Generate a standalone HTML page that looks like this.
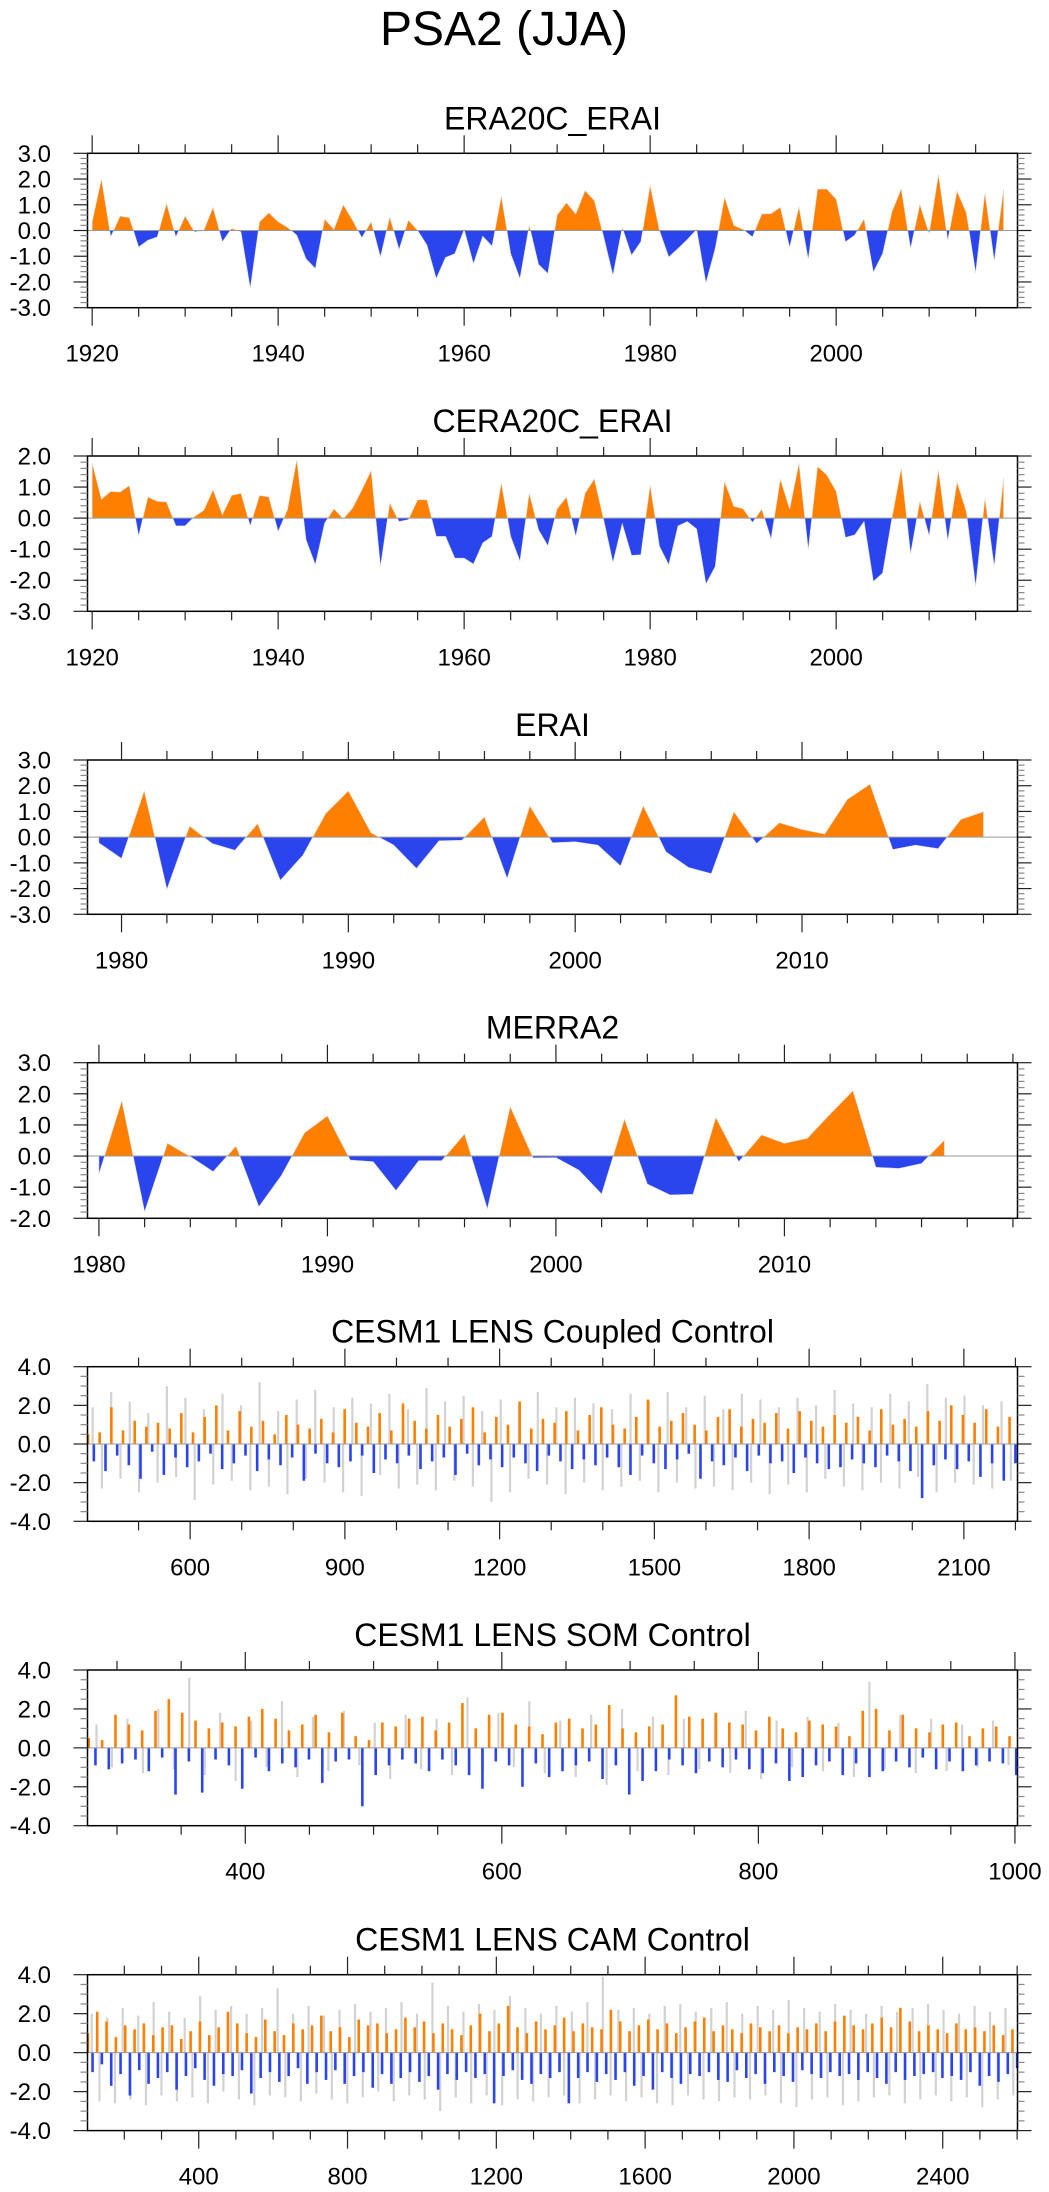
<!DOCTYPE html>
<html><head><meta charset="utf-8"><title>PSA2 (JJA)</title>
<style>html,body{margin:0;padding:0;background:#fff}svg{display:block}text{font-family:"Liberation Sans",Arial,sans-serif;fill:#000}</style>
</head><body>
<svg id="fig" width="1049" height="2192" viewBox="0 0 1049 2192" xmlns="http://www.w3.org/2000/svg">
<rect width="1049" height="2192" fill="#fff"/>
<text x="504" y="45" font-size="48" text-anchor="middle">PSA2 (JJA)</text>
</svg>
<script>
// ---- data ----
const era20cStart = 1920;
const era20cValues = [0.34,2.0,-0.25,0.56,0.5,-0.64,-0.38,-0.25,1.05,-0.25,0.56,-0.05,0,0.9,-0.44,0.08,-0.05,-2.25,0.34,0.69,
0.34,0.12,-0.18,-1.1,-1.48,0.44,0.04,1.0,0.4,-0.28,0.34,-1.03,0.53,-0.74,0.4,0,-0.57,-1.87,-1.05,-0.9,
0.04,-1.29,-0.22,-0.61,1.34,-0.9,-1.87,0.2,-1.32,-1.67,0.6,1.08,0.64,1.55,1.16,-0.24,-1.74,0.12,-0.96,-0.44,
1.75,0,-1.03,-0.7,-0.35,0.04,-2.04,-0.7,1.29,0.2,0.04,-0.25,0.64,0.66,0.9,-0.66,0.92,-1.13,1.61,1.61,
1.22,-0.44,-0.18,0.45,-1.62,-0.9,0.73,1.62,-0.7,1.01,-0.12,2.18,-0.38,1.53,0.69,-1.65,1.47,-1.19,1.61];
const cera20cStart = 1920;
const cera20cValues = [1.77,0.61,0.86,0.84,1.05,-0.57,0.68,0.54,0.52,-0.25,-0.25,0.05,0.25,0.91,0.11,0.73,0.8,-0.25,0.73,0.68,
-0.43,0.27,1.88,-0.7,-1.5,-0.16,0.3,-0.02,0.32,0.91,1.53,-1.56,0.48,-0.11,-0.05,0.59,0.59,-0.59,-0.59,-1.29,
-1.29,-1.48,-0.8,-0.59,1.13,-0.59,-1.39,0.8,-0.38,-0.89,0.3,0.68,-0.59,0.8,1.26,-0.05,-1.43,-0.18,-1.2,-1.18,
1.07,-0.91,-1.5,-0.25,-0.11,-0.35,-2.12,-1.56,1.18,0.38,0.3,-0.14,0.29,-0.67,1.26,0.29,1.77,-1.02,1.66,1.39,
0.86,-0.62,-0.54,-0.11,-2.04,-1.77,0,1.61,-1.15,0.54,-0.57,1.56,-0.73,1.16,0.21,-2.2,0.64,-1.56,1.29];
const eraiStart = 1979;
const eraiValues = [-0.22,-0.83,1.8,-2.03,0.43,-0.25,-0.51,0.53,-1.68,-0.7,0.92,1.8,0.17,-0.31,-1.22,-0.14,-0.12,0.79,-1.61,1.21,
-0.22,-0.18,-0.31,-1.12,1.22,-0.57,-1.18,-1.42,0.99,-0.25,0.56,0.3,0.12,1.47,2.06,-0.48,-0.31,-0.45,0.69,0.99];
const merra2Start = 1980;
const merra2Values = [-0.58,1.78,-1.79,0.41,-0.02,-0.5,0.32,-1.63,-0.61,0.75,1.29,-0.13,-0.18,-1.11,-0.15,-0.15,0.71,-1.7,1.59,-0.06,
-0.05,-0.45,-1.22,1.19,-0.9,-1.25,-1.23,1.24,-0.18,0.68,0.41,0.57,1.35,2.1,-0.36,-0.4,-0.24,0.51];

const cplFirstYear = 402, cplLastYear = 2200;
const cplValues = [0.5,-0.9,0.6,-1.4,1.9,-0.6,0.7,-1.1,1.2,-1.8,0.9,-0.4,1.1,-1.6,0.8,-0.7,1.6,-1.2,0.6,-0.9,
1.4,-0.5,2.0,-1.3,0.7,-1.0,1.7,-0.6,0.9,-1.4,1.2,-0.8,0.5,-1.1,1.5,-0.7,1.0,-1.9,0.8,-0.5,
1.3,-1.0,0.6,-1.2,1.8,-0.9,1.1,-0.6,0.9,-1.5,1.6,-0.8,0.7,-1.0,2.1,-0.6,1.2,-1.3,0.8,-0.9,
1.5,-0.7,0.9,-1.6,1.3,-0.5,1.9,-1.1,0.6,-0.8,1.4,-1.2,1.0,-0.7,2.2,-1.0,0.8,-1.4,1.3,-0.6,
1.1,-0.9,1.7,-1.3,0.7,-0.8,1.5,-1.1,1.9,-0.7,1.0,-1.2,0.8,-1.6,1.4,-0.6,2.3,-1.0,0.9,-1.3,
1.2,-0.8,1.6,-0.5,1.0,-1.8,0.7,-0.9,1.4,-1.1,1.8,-0.7,0.9,-1.4,1.3,-0.6,1.1,-1.0,1.6,-0.9,
0.8,-1.5,1.7,-0.7,1.2,-1.0,0.9,-1.3,1.5,-1.2,1.1,-0.8,1.4,-1.0,0.7,-1.2,1.8,-0.6,1.0,-0.9,
1.3,-1.4,0.9,-2.8,1.7,-1.1,1.2,-0.8,2.0,-1.3,1.5,-0.9,1.1,-1.7,1.8,-1.0,0.9,-1.9,1.4,-1.0];
const cplGrey = [1.9,-2.3,2.7,-1.8,2.2,-2.5,1.6,-2.0,3.0,-1.7,2.4,-2.9,1.8,-2.1,2.6,-1.9,2.0,-2.4,3.2,-2.2,
1.7,-2.6,2.3,-1.8,2.8,-2.0,1.9,-2.5,2.4,-2.7,2.1,-1.6,2.6,-2.3,1.8,-2.1,2.9,-2.4,2.2,-1.9,
2.5,-2.2,1.7,-3.0,2.3,-2.5,2.0,-1.8,2.7,-2.1,1.9,-2.6,2.4,-2.0,2.1,-2.4,1.8,-2.2,2.6,-1.9,
2.2,-2.5,2.7,-2.0,1.9,-2.3,2.5,-2.2,1.8,-2.4,2.6,-2.0,2.3,-2.6,1.9,-2.1,2.4,-2.5,2.0,-1.8,
2.8,-2.2,2.1,-2.4,1.9,-2.0,2.6,-2.3,2.2,-1.7,3.1,-2.5,2.4,-2.0,2.5,-2.1,2.0,-2.3,2.2,-1.9];

const somFirstYear = 278, somLastYear = 1001;
const somValues = [0.5,-0.9,0.4,-1.1,1.7,-0.8,1.2,-0.6,0.9,-1.2,1.9,-0.5,2.5,-2.4,1.8,-0.7,1.4,-2.3,1.0,-0.6,
1.3,-0.9,1.1,-2.1,1.6,-0.5,2.0,-1.2,1.5,-0.8,0.9,-1.0,1.2,-0.6,1.7,-1.8,0.8,-0.7,1.8,-0.6,
0.6,-3.0,0.4,-1.4,1.3,-0.9,1.1,-0.6,1.5,-0.8,1.6,-1.2,0.9,-0.6,1.3,-0.9,2.3,-1.4,1.0,-2.1,
1.7,-0.7,1.8,-0.9,1.2,-2.0,1.1,-0.8,0.7,-1.5,1.3,-1.2,1.5,-0.9,1.0,-0.7,1.2,-1.6,2.2,-0.9,
1.0,-2.4,0.8,-1.7,1.1,-1.2,1.2,-0.6,2.7,-0.9,1.6,-1.3,1.5,-0.7,1.8,-1.0,1.3,-0.6,1.2,-1.1,
0.9,-1.3,1.6,-0.8,1.0,-1.7,0.8,-1.5,1.4,-0.9,1.2,-0.7,1.1,-1.4,0.6,-0.8,1.9,-1.5,2.0,-1.2,
0.9,-0.7,1.7,-1.0,1.0,-0.5,0.8,-1.1,1.2,-0.7,1.3,-1.2,0.6,-0.9,1.0,-0.7,1.1,-0.8,0.6,-1.4];
const somGrey = [1.2,-1.0,1.5,-1.3,2.0,-1.1,3.6,-1.4,1.8,-1.7,1.4,-1.0,2.4,-1.5,1.6,-1.2,1.9,-0.9,1.3,-1.6,
1.7,-1.1,1.5,-1.4,2.6,-1.2,1.8,-1.0,2.4,-1.3,1.4,-1.5,1.7,-1.9,2.0,-1.2,1.6,-1.4,1.5,-1.1,
1.8,-1.3,1.9,-1.6,1.4,-1.0,1.6,-1.2,1.3,-1.5,3.4,-1.1,1.7,-1.3,1.5,-1.2,1.2,-1.0,1.4,-0.9];

const camFirstYear = 102, camLastYear = 2600;
const camValues = [1.0,-1.0,2.1,-0.6,1.6,-1.7,0.8,-1.1,1.4,-2.2,1.2,-0.9,1.5,-1.6,0.9,-1.3,1.3,-1.0,1.4,-1.9,
0.7,-1.2,1.1,-0.8,1.6,-1.4,0.9,-1.7,1.3,-1.1,2.1,-1.2,1.5,-0.9,1.0,-2.1,0.8,-1.3,1.7,-1.0,
1.1,-1.5,0.9,-1.2,1.5,-0.8,1.2,-1.6,1.4,-1.0,1.9,-1.4,1.1,-0.9,1.3,-1.6,0.8,-1.2,1.7,-1.0,
1.4,-1.8,1.5,-1.1,1.0,-1.6,1.2,-1.3,1.8,-1.0,1.3,-1.5,1.6,-1.2,1.0,-1.9,1.5,-1.1,1.2,-1.4,
0.9,-1.0,1.4,-1.3,2.0,-1.1,1.1,-2.6,1.5,-1.2,2.4,-0.9,1.3,-1.4,1.0,-1.6,1.6,-1.1,1.2,-1.3,
1.4,-1.0,1.8,-2.6,1.1,-1.3,1.5,-1.0,1.3,-1.5,1.2,-1.1,2.2,-1.4,1.6,-1.0,1.1,-1.7,1.4,-1.2,
1.7,-1.9,1.2,-1.0,1.5,-1.3,1.0,-1.6,1.3,-1.1,1.6,-1.2,1.8,-1.0,1.1,-1.4,1.4,-1.5,1.2,-0.9,
1.0,-1.3,1.5,-1.1,1.3,-1.6,1.1,-1.0,1.4,-1.2,1.0,-1.5,1.3,-0.9,1.2,-1.1,1.5,-1.3,1.1,-1.0,
1.6,-1.2,1.9,-1.1,1.4,-1.4,1.2,-1.0,1.5,-1.3,1.8,-1.6,1.3,-1.0,2.3,-1.4,1.6,-1.2,1.1,-1.1,
1.4,-1.0,1.2,-1.3,1.0,-1.2,1.5,-1.4,1.2,-1.0,1.3,-1.7,1.1,-1.2,1.4,-1.5,0.9,-1.1,1.2,-0.8];
const camGrey = [2.0,-2.5,1.8,-2.6,2.3,-2.4,1.9,-2.7,2.6,-2.2,2.1,-2.5,1.8,-2.3,2.9,-2.6,2.2,-2.0,2.4,-2.4,
2.0,-2.7,2.3,-2.2,3.3,-2.3,2.0,-2.5,2.4,-2.1,1.9,-2.4,2.2,-2.6,2.5,-2.3,2.1,-2.0,2.3,-2.5,
2.6,-2.2,2.0,-2.4,3.6,-3.0,2.4,-2.3,2.1,-2.6,2.5,-2.2,2.2,-2.7,2.9,-2.4,2.3,-2.5,2.0,-2.3,
2.4,-2.2,2.1,-2.6,2.6,-2.4,3.9,-2.2,2.2,-2.5,2.3,-2.3,2.0,-2.6,2.4,-2.7,2.5,-2.2,2.1,-2.4,
2.3,-2.5,2.6,-2.3,2.0,-2.4,2.4,-2.2,2.2,-2.6,2.7,-2.8,2.3,-2.4,2.1,-2.3,2.5,-2.7,2.2,-2.5,
2.0,-2.3,2.4,-2.2,2.1,-2.6,2.3,-2.4,2.5,-2.2,2.2,-2.5,2.0,-2.3,2.4,-2.8,2.1,-2.4,2.3,-2.2];

// tick label arrays
const era20cXTicks = [1920,1940,1960,1980,2000];
const eraiXTicks = [1980,1990,2000,2010];
const cplXTicks = [600,900,1200,1500,1800,2100];
const somXTicks = [400,600,800,1000];
const camXTicks = [400,800,1200,1600,2000,2400];

const NS = "http://www.w3.org/2000/svg";
const svg = document.getElementById('fig');
const ORANGE = "#ff8000", BLUE = "#2a45ee";
let clipId = 0;

function mk(tag, attrs, parent) {
  const e = document.createElementNS(NS, tag);
  for (const k in attrs) e.setAttribute(k, attrs[k]);
  (parent || svg).appendChild(e);
  return e;
}

function panel(cfg) {
  const g = mk('g', {});
  
  
  const L = 87.5, R = 1017.5, T = cfg.top, B = cfg.bottom;
  const xs = v => L + (v - cfg.xmin) / (cfg.xmax - cfg.xmin) * (R - L);
  const ys = v => B - (v - cfg.ymin) / (cfg.ymax - cfg.ymin) * (B - T);
  const t = mk('text', {x: (L + R) / 2, y: cfg.top - 24, 'font-size': 32, 'text-anchor': 'middle'}, g);
  t.textContent = cfg.title;
  
  
  const plot = mk('g', {}, g);
  
  
  const z = ys(0);
  if (cfg.type === 'area') {
    const pts = cfg.values.map((v, i) => xs(cfg.start + i).toFixed(2) + ',' + ys(v).toFixed(2));
    const x0 = xs(cfg.start), x1 = xs(cfg.start + cfg.values.length - 1);
    const d = 'M' + x0 + ',' + z + ' L' + pts.join(' L') + ' L' + x1 + ',' + z + 'Z';
    const id = 'c' + (clipId++);
    const defs = mk('defs', {}, plot);
    const cp = mk('clipPath', {id: id + 'p'}, defs); mk('rect', {x: L, y: T, width: R - L, height: z - T}, cp);
    const cn = mk('clipPath', {id: id + 'n'}, defs); mk('rect', {x: L, y: z, width: R - L, height: B - z}, cn);
    const pa = mk('path', {d: d, fill: ORANGE, stroke: '#ddd', 'stroke-width': 0.6, 'clip-path': 'url(#' + id + 'p)'}, plot);
    
    
    const na = mk('path', {d: d, fill: BLUE, stroke: '#ddd', 'stroke-width': 0.6, 'clip-path': 'url(#' + id + 'n)'}, plot);
    
    
  } else {
    const ng = cfg.grey.length, nv = cfg.values.length;
    const span = cfg.last - cfg.first;
    cfg.grey.forEach((v, i) => {
      const yr = cfg.first + (i + 0.5) / ng * span;
      const l = mk('line', {x1: xs(yr), x2: xs(yr), y1: z, y2: ys(v), stroke: '#d2d2d2', 'stroke-width': 2.2}, plot);
      
      
    });
    cfg.values.forEach((v, i) => {
      const yr = cfg.first + i / (nv - 1) * span;
      const l = mk('line', {x1: xs(yr), x2: xs(yr), y1: z, y2: ys(v), stroke: v >= 0 ? ORANGE : BLUE, 'stroke-width': 2.6}, plot);
      
      
    });
  }
  mk('line', {x1: L, x2: R, y1: z, y2: z, stroke: '#999', 'stroke-width': 1}, plot);
  // frame
  const fr = mk('rect', {x: L, y: T, width: R - L, height: B - T, fill: 'none', stroke: '#000', 'stroke-width': 1.5}, g);
  
  
  // x ticks
  const xa = mk('g', {stroke: '#222', 'stroke-width': 1.2}, g);
  
  
  const mstart = Math.ceil(cfg.xmin / cfg.xminor) * cfg.xminor;
  for (let v = mstart; v <= cfg.xmax; v += cfg.xminor) {
    const major = cfg.xticks.includes(v);
    const len = major ? 18 : 9;
    const x = xs(v);
    mk('line', {x1: x, x2: x, y1: T, y2: T - len}, xa);
    mk('line', {x1: x, x2: x, y1: B, y2: B + len}, xa);
  }
  cfg.xticks.forEach(v => {
    const tx = mk('text', {x: xs(v), y: B + 54, 'font-size': 24, 'text-anchor': 'middle', stroke: 'none'}, g);
    tx.textContent = v;
    
    
  });
  // y ticks
  const ya = mk('g', {stroke: '#222', 'stroke-width': 1.2}, g);
  
  
  const nMin = Math.round((cfg.ymax - cfg.ymin) / cfg.yminor);
  for (let k = 0; k <= nMin; k++) {
    const v = cfg.ymin + k * cfg.yminor;
    const r = v / cfg.ymajor;
    const major = Math.abs(r - Math.round(r)) < 1e-6;
    const len = major ? 14 : 7;
    const y = ys(v);
    mk('line', {x1: L, x2: L - len, y1: y, y2: y, stroke: major ? '#222' : '#888'}, ya);
    mk('line', {x1: R, x2: R + len, y1: y, y2: y, stroke: major ? '#222' : '#888'}, ya);
    if (major) {
      const ty = mk('text', {x: 51, y: y + 8.5, 'font-size': 24, 'text-anchor': 'end', stroke: 'none'}, g);
      ty.textContent = v.toFixed(1);
      
      
    }
  }
}

panel({name: 'era20c-erai-panel', title: 'ERA20C_ERAI', type: 'area', top: 153.3, bottom: 307.7, ymin: -3, ymax: 3, ymajor: 1, yminor: 0.2,
  xmin: 1919.5, xmax: 2019.5, xticks: era20cXTicks, xminor: 5, start: era20cStart, values: era20cValues});
panel({name: 'cera20c-erai-panel', title: 'CERA20C_ERAI', type: 'area', top: 456, bottom: 611.3, ymin: -3, ymax: 2, ymajor: 1, yminor: 0.2,
  xmin: 1919.5, xmax: 2019.5, xticks: era20cXTicks, xminor: 5, start: cera20cStart, values: cera20cValues});
panel({name: 'erai-panel', title: 'ERAI', type: 'area', top: 760, bottom: 914.3, ymin: -3, ymax: 3, ymajor: 1, yminor: 0.2,
  xmin: 1978.5, xmax: 2019.5, xticks: eraiXTicks, xminor: 2, start: eraiStart, values: eraiValues});
panel({name: 'merra2-panel', title: 'MERRA2', type: 'area', top: 1062.7, bottom: 1218.3, ymin: -2, ymax: 3, ymajor: 1, yminor: 0.2,
  xmin: 1979.5, xmax: 2020.2, xticks: eraiXTicks, xminor: 2, start: merra2Start, values: merra2Values});
panel({name: 'cesm-coupled-panel', title: 'CESM1 LENS Coupled Control', type: 'bars', top: 1366.7, bottom: 1521.3, ymin: -4, ymax: 4, ymajor: 2, yminor: 0.5,
  xmin: 401, xmax: 2204, xticks: cplXTicks, xminor: 100, first: cplFirstYear, last: cplLastYear, values: cplValues, grey: cplGrey});
panel({name: 'cesm-som-panel', title: 'CESM1 LENS SOM Control', type: 'bars', top: 1670, bottom: 1825.7, ymin: -4, ymax: 4, ymajor: 2, yminor: 0.5,
  xmin: 277, xmax: 1002, xticks: somXTicks, xminor: 50, first: somFirstYear, last: somLastYear, values: somValues, grey: somGrey});
panel({name: 'cesm-cam-panel', title: 'CESM1 LENS CAM Control', type: 'bars', top: 1974.7, bottom: 2130.6, ymin: -4, ymax: 4, ymajor: 2, yminor: 0.5,
  xmin: 101, xmax: 2601, xticks: camXTicks, xminor: 100, first: camFirstYear, last: camLastYear, values: camValues, grey: camGrey});
</script>
</body></html>
